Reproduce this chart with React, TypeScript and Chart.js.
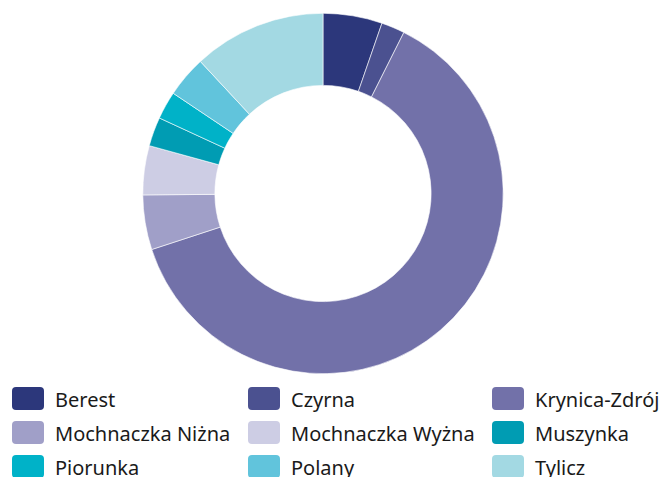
import React, { useEffect, useRef } from "react";
import { Chart, registerables } from "chart.js";

Chart.register(...registerables);

const labels = [
  "Berest",
  "Czyrna",
  "Krynica-Zdrój",
  "Mochnaczka Niżna",
  "Mochnaczka Wyżna",
  "Muszynka",
  "Piorunka",
  "Polany",
  "Tylicz",
];
const values = [5.3, 2.1, 62.5, 4.9, 4.4, 2.6, 2.5, 3.7, 11.9];
const colors = [
  "#2c377b",
  "#4b5190",
  "#7271a9",
  "#a09fc8",
  "#cdcde4",
  "#009cb3",
  "#00b2c8",
  "#61c4dc",
  "#a3d9e3",
];

const FONT = "'Noto Sans', 'Open Sans', sans-serif";

export default function App() {
  const ref = useRef<HTMLCanvasElement | null>(null);

  useEffect(() => {
    if (!ref.current) return;
    const chart = new Chart(ref.current, {
      type: "doughnut",
      data: {
        labels,
        datasets: [
          {
            data: values,
            backgroundColor: colors,
            borderColor: "#ffffff",
            borderWidth: 0.6,
          },
        ],
      },
      options: {
        animation: false,
        responsive: false,
        cutout: "60%",
        layout: { padding: { top: 13, bottom: 6, left: 0, right: 19 } },
        plugins: {
          legend: { display: false },
          tooltip: { enabled: false },
        },
      },
    });
    return () => chart.destroy();
  }, []);

  const colLeft = [12, 248, 492];
  const rowTop = [387, 421, 455];

  return (
    <div
      style={{
        position: "absolute",
        left: 0,
        top: 0,
        width: 665,
        height: 477,
        overflow: "hidden",
        background: "#fff",
        fontFamily: FONT,
      }}
    >
      <canvas
        ref={ref}
        width={665}
        height={380}
        style={{ position: "absolute", left: 0, top: 0, width: 665, height: 380 }}
      />
      {labels.map((l, i) => {
        const c = i % 3;
        const r = Math.floor(i / 3);
        return (
          <div
            key={l}
            style={{
              position: "absolute",
              left: colLeft[c],
              top: rowTop[r],
              height: 23,
              display: "flex",
              alignItems: "center",
              whiteSpace: "nowrap",
            }}
          >
            <span
              style={{
                display: "inline-block",
                width: 32,
                height: 23,
                borderRadius: 4,
                background: colors[i],
                marginRight: 11,
                flex: "none",
              }}
            />
            <span style={{ fontSize: 20, color: "#1a1a1a", lineHeight: "23px", position: "relative", top: 1 }}>{l}</span>
          </div>
        );
      })}
    </div>
  );
}
